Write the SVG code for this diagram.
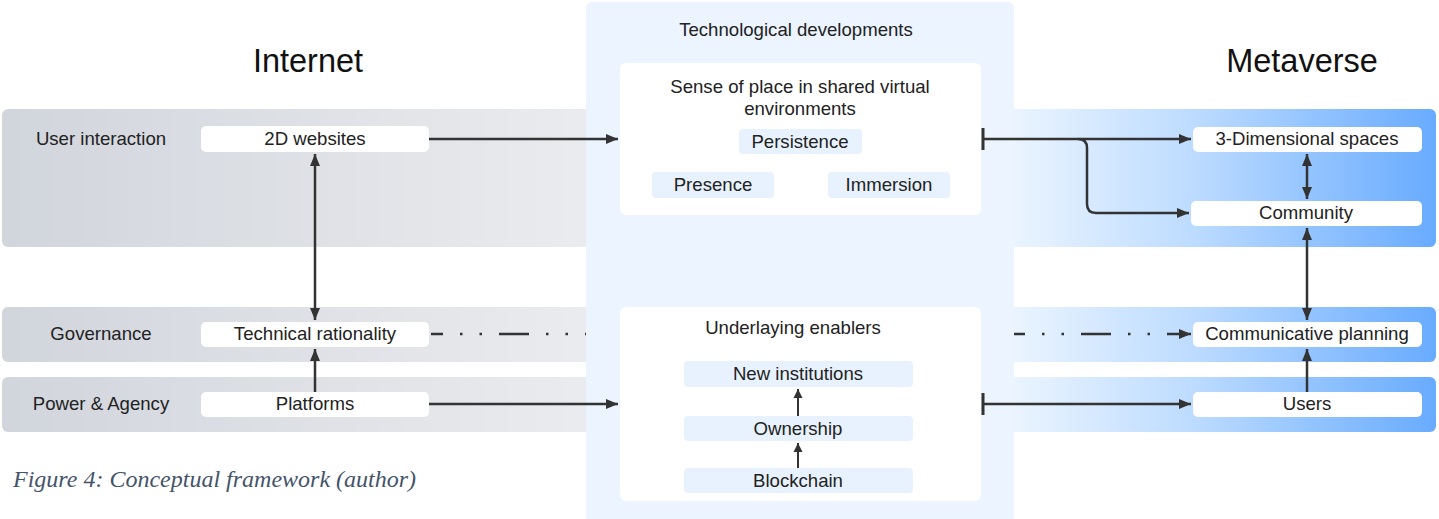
<svg xmlns="http://www.w3.org/2000/svg" width="1439" height="519" viewBox="0 0 1439 519">
<defs>
<linearGradient id="gl" x1="0" y1="0" x2="1" y2="0"><stop offset="0" stop-color="#d1d5dc"/><stop offset="1" stop-color="#ebecef"/></linearGradient>
<linearGradient id="gr" x1="0" y1="0" x2="1" y2="0"><stop offset="0" stop-color="#eef6ff"/><stop offset="0.45" stop-color="#bcdbff"/><stop offset="1" stop-color="#68abff"/></linearGradient>
<marker id="ah" viewBox="0 0 12 10" refX="12" refY="5" markerWidth="12" markerHeight="10" markerUnits="userSpaceOnUse" orient="auto-start-reverse"><path d="M0,0 L12,5 L0,10 z" fill="#333"/></marker>
<marker id="ahs" viewBox="0 0 10 10" refX="10" refY="5" markerWidth="9" markerHeight="10" markerUnits="userSpaceOnUse" orient="auto-start-reverse"><path d="M0,0 L10,5 L0,10 z" fill="#333"/></marker>
<marker id="tee" viewBox="0 0 4 22" refX="2" refY="11" markerWidth="4" markerHeight="22" markerUnits="userSpaceOnUse" orient="auto"><rect x="0.5" y="0" width="3" height="22" fill="#333"/></marker>
</defs>
<style>
text{font-family:"Liberation Sans",Arial,sans-serif;fill:#222;font-size:18.6px}
.c{text-anchor:middle}
.h{font-size:32.5px;fill:#111}
.n{fill:#fff}
.s{fill:#e8f2fe}
.ln{fill:none;stroke:#333;stroke-width:2.5}
.th{fill:none;stroke:#333;stroke-width:2}
.cap{font-family:"Liberation Serif","Times New Roman",serif;font-style:italic;font-size:24px;fill:#44546a}
</style>
<g id="bands">
<rect x="2" y="109" width="600" height="138" rx="6" fill="url(#gl)"/>
<rect x="2" y="307" width="600" height="55" rx="6" fill="url(#gl)"/>
<rect x="2" y="377" width="600" height="55" rx="6" fill="url(#gl)"/>
<rect x="1000" y="109" width="436" height="138" rx="6" fill="url(#gr)"/>
<rect x="1000" y="307" width="436" height="55" rx="6" fill="url(#gr)"/>
<rect x="1000" y="377" width="436" height="55" rx="6" fill="url(#gr)"/>
<text x="101" y="145" class="c">User interaction</text>
<text x="101" y="340" class="c">Governance</text>
<text x="101" y="410" class="c">Power &amp; Agency</text>
</g>
<g id="center-panel">
<rect x="586" y="2" width="428" height="530" rx="6" fill="#ebf4ff"/>
<text x="796" y="36" class="c">Technological developments</text>
</g>
<text x="308" y="72" class="c h">Internet</text>
<text x="1302" y="72" class="c h">Metaverse</text>
<g id="sense-of-place">
<rect x="620" y="63" width="361" height="152" rx="6" class="n"/>
<text x="800" y="93" class="c">Sense of place in shared virtual</text>
<text x="800" y="115" class="c">environments</text>
</g>
<g id="persistence"><rect x="739" y="129" width="123" height="25" rx="4" class="s"/><text x="800" y="148" class="c">Persistence</text></g>
<g id="presence"><rect x="652" y="172" width="122" height="26" rx="4" class="s"/><text x="713" y="191" class="c">Presence</text></g>
<g id="immersion"><rect x="828" y="172" width="122" height="26" rx="4" class="s"/><text x="889" y="191" class="c">Immersion</text></g>
<g id="enablers">
<rect x="620" y="307" width="361" height="194" rx="6" class="n"/>
<text x="793" y="334" class="c">Underlaying enablers</text>
</g>
<g id="new-institutions"><rect x="684" y="361" width="229" height="26" rx="4" class="s"/><text x="798" y="380" class="c">New institutions</text></g>
<g id="ownership"><rect x="684" y="416" width="229" height="25" rx="4" class="s"/><text x="798" y="435" class="c">Ownership</text></g>
<g id="blockchain"><rect x="684" y="468" width="229" height="25" rx="4" class="s"/><text x="798" y="487" class="c">Blockchain</text></g>
<g id="websites"><rect x="201" y="126" width="228" height="26" rx="5" class="n"/><text x="315" y="145" class="c">2D websites</text></g>
<g id="technical-rationality"><rect x="201" y="322" width="228" height="25" rx="5" class="n"/><text x="315" y="340" class="c">Technical rationality</text></g>
<g id="platforms"><rect x="201" y="392" width="228" height="25" rx="5" class="n"/><text x="315" y="410" class="c">Platforms</text></g>
<g id="spaces3d"><rect x="1193" y="127" width="229" height="25" rx="5" class="n"/><text x="1307" y="145" class="c">3-Dimensional spaces</text></g>
<g id="community"><rect x="1191" y="201" width="231" height="25" rx="5" class="n"/><text x="1306" y="219" class="c">Community</text></g>
<g id="communicative-planning"><rect x="1193" y="322" width="229" height="25" rx="5" class="n"/><text x="1307" y="340" class="c">Communicative planning</text></g>
<g id="users"><rect x="1193" y="392" width="229" height="25" rx="5" class="n"/><text x="1307" y="410" class="c">Users</text></g>
<g id="connectors">
<path d="M429,139 L618,139" class="ln" marker-end="url(#ah)"/>
<path d="M429,404 L618,404" class="ln" marker-end="url(#ah)"/>
<path d="M315,154 L315,320" class="ln" marker-start="url(#ah)" marker-end="url(#ah)"/>
<path d="M315,392 L315,349" class="ln" marker-end="url(#ah)"/>
<path d="M431,334 L586,334" class="ln" stroke-dasharray="30 17 2.5 17 2.5 17" stroke-dashoffset="18"/>
<path d="M1014,334 L1191,334" class="ln" stroke-dasharray="30 17 2.5 17 2.5 17" stroke-dashoffset="19" marker-end="url(#ah)"/>
<path d="M983,139 L1191,139" class="ln" marker-start="url(#tee)" marker-end="url(#ah)"/>
<path d="M1078,139 Q1087,139 1087,148 L1087,204 Q1087,213 1096,213 L1189,213" class="ln" marker-end="url(#ah)"/>
<path d="M983,404 L1191,404" class="ln" marker-start="url(#tee)" marker-end="url(#ah)"/>
<path d="M1307,154 L1307,199" class="ln" marker-start="url(#ah)" marker-end="url(#ah)"/>
<path d="M1307,228 L1307,320" class="ln" marker-start="url(#ah)" marker-end="url(#ah)"/>
<path d="M1307,392 L1307,349" class="ln" marker-end="url(#ah)"/>
<path d="M798,468 L798,443" class="th" marker-end="url(#ahs)"/>
<path d="M798,416 L798,389" class="th" marker-end="url(#ahs)"/>
</g>
<text x="13" y="487" class="cap">Figure 4: Conceptual framework (author)</text>
</svg>
